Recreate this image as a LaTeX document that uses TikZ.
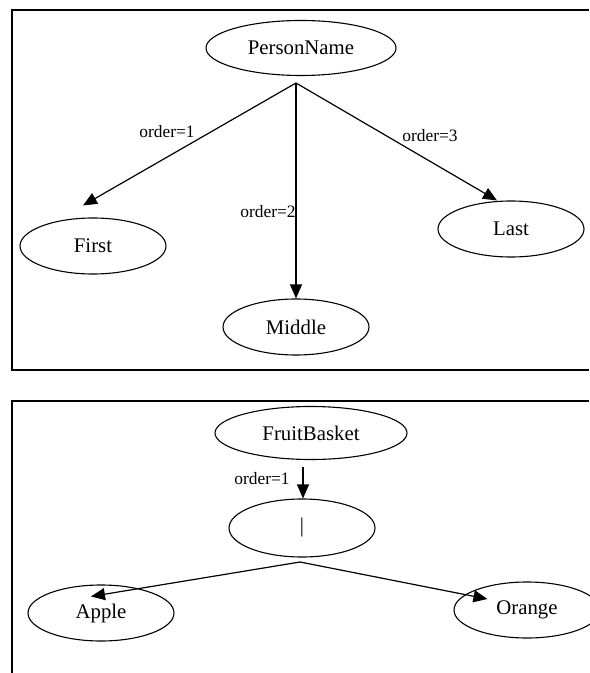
\documentclass[tikz,border=0pt]{standalone}
\usepackage{fontspec}
\setmainfont{Liberation Serif}
\usetikzlibrary{arrows.meta,shapes.geometric,positioning}
\tikzset{
  elem/.style={draw,ellipse,line width=0.55pt,inner sep=0pt,
    minimum width=73pt,minimum height=28pt,font=\fontsize{10.4}{12}\selectfont},
  ordlabel/.style={inner sep=0pt,font=\fontsize{8.7}{10}\selectfont},
  frame/.style={line width=0.9pt},
}

\begin{document}
\begin{tikzpicture}[x=0.5pt,y=-0.5pt,>={Triangle[length=7pt,width=6pt]},line width=0.6pt]
            \useasboundingbox (0,0) rectangle (589,673);
            % frames
            \draw[frame] (589,10) -- (12,10) -- (12,370) -- (589,370);
            \draw[frame] (589,401) -- (12,401) -- (12,673);
            % sequence: PersonName
            \node[elem,minimum width=95pt,minimum height=27.5pt] (pn) at (301,48) {PersonName};
            \node[elem] (first)  at (93,246)  {First};
            \node[elem] (middle) at (296,327) {Middle};
            \node[elem] (last)   at (511,229) {Last};
            \coordinate (pnout) at (296,83);
            \draw[->] (pnout) -- ([shift={(-10,-12)}]first.north);
            \draw[->] (pnout) -- (middle.north);
            \draw[->] (pnout) -- ([shift={(-14,0)}]last.north);
            \node[ordlabel] (ord1) at (167,132) {order=1};
            \node[ordlabel] (ord2) at (268,212) {order=2};
            \node[ordlabel] (ord3) at (430,136) {order=3};
            % choice: FruitBasket
            \node[elem,minimum width=96pt,minimum height=26.5pt] (fb) at (311,433) {FruitBasket};
            \node[elem,minimum height=29pt] (alt)    at (302,528) {|};
            \node[elem] (apple)  at (101,613) {Apple};
            \node[elem] (orange) at (527,610) {Orange};
            \coordinate (fbout) at (303,467);
            \coordinate (altout) at (300,562);
            \draw[->] (fbout) -- (alt.north -| fbout);
            \node[ordlabel] (ord4) at (262,479) {order=1};
            \draw[->] (altout) -- ([shift={(-10,12)}]apple.north);
            \draw[->] (altout) -- ([shift={(34,-11)}]orange.west);
\end{tikzpicture}
\end{document}
